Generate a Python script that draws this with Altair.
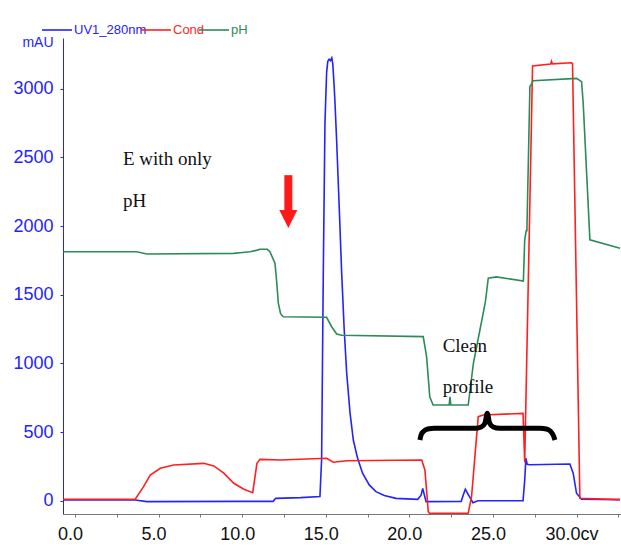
import altair as alt
import pandas as pd

# UV absorbance trace (mAU) against column volumes
uv_x = [-0.7, 3.6, 4.3, 9.9, 11.85, 12.0, 13.5, 14.65, 14.75, 14.85, 14.95, 15.05, 15.12,
        15.2, 15.28, 15.36, 15.42, 15.5, 15.55, 15.65, 15.8, 15.95, 16.1, 16.25, 16.45,
        16.65, 16.9, 17.2, 17.6, 18.0, 18.5, 19.2, 20.5, 20.7, 20.8,
        20.9, 21.0, 23.1, 23.25, 23.35, 23.5, 23.8, 24.1, 26.8, 26.9, 26.97, 27.05, 27.2,
        29.6, 29.8, 30.0, 30.3, 32.6]
uv_y = [5, 5, -7, -5, -5, 17, 22, 30, 300, 1650, 2750, 3120, 3200,
        3215, 3205, 3225, 3180, 3020, 2900, 2620, 2150, 1660, 1250, 930, 640,
        440, 310, 200, 115, 66, 38, 17, 10, 40, 90,
        40, -7, -5, 50, 83, 50, -15, 0, 0, 150, 309, 265, 262,
        267, 200, 54, 10, 8]

# Conductivity trace
cond_x = [-0.7, 3.6, 4.1, 4.5, 5.1, 5.9, 7.7, 8.3, 8.9, 9.5, 10.1, 10.63, 10.88, 11.07,
          12.3, 15.05, 15.45, 16.25, 20.74, 20.93, 21.13, 21.2, 23.52, 23.72, 24.12, 24.42,
          26.8, 26.9, 27.37, 28.45, 28.5, 28.55, 29.7, 29.76, 30.2, 32.6]
cond_y = [10, 10, 102, 187, 236, 260, 272, 253, 200, 127, 83, 58, 272, 301,
          296, 309, 280, 291, 296, 224, -80, -92, -92, 29, 612, 624,
          636, 280, 3166, 3181, 3200, 3182, 3190, 3185, 17, 8]

# pH trace
ph_x = [-0.7, 3.69, 4.29, 9.47, 9.87, 10.47, 10.9, 11.06, 11.5, 11.66, 11.96, 12.06, 12.16,
        12.3, 12.46, 15.05, 15.35, 15.65, 15.95, 20.83, 21.03, 21.22, 21.42, 22.38, 22.43,
        22.48, 23.52, 23.83, 24.22, 24.55, 24.72, 25.2, 26.82, 26.9, 27.0, 27.03, 27.21,
        27.41, 30.0, 30.3, 30.4, 30.8, 32.6]
ph_y = [1813, 1813, 1797, 1801, 1806, 1813, 1825, 1831, 1831, 1813, 1729, 1600, 1438,
        1360, 1340, 1336, 1267, 1214, 1205, 1195, 1049, 757, 697, 697, 757,
        697, 697, 1000, 1243, 1450, 1620, 1630, 1600, 1900, 1972, 1960, 3015,
        3059, 3076, 3052, 2894, 1900, 1838]

series_names = ["UV1_280nm", "Cond", "pH"]
series_colors = ["#2323ff", "#ff1f1f", "#2e8b57"]

# Annotations
note_text = ["E with only", "pH", "Clean", "profile"]
note_x = [2.87, 2.87, 21.99, 21.99]
note_y = [2445, 2141, 1085, 782]

brace_x = [20.63, 20.7, 20.85, 21.1, 21.5, 23.9, 24.3, 24.52, 24.66, 24.8, 25.02, 25.4,
           27.8, 28.2, 28.45, 28.6, 28.71]
brace_y = [442, 478, 505, 522, 527, 527, 537, 565, 637, 565, 537, 527,
           527, 522, 505, 478, 442]

arrow_x = [12.76]
arrow_top = [2371]
arrow_base = [2115]
arrow_head = [2052]

x_ticks = [i * 2.5 for i in range(14)]
y_ticks = list(range(0, 3251, 250))

rows = []
for name, xs, ys in [("UV1_280nm", uv_x, uv_y), ("Cond", cond_x, cond_y), ("pH", ph_x, ph_y)]:
    for i, (xv, yv) in enumerate(zip(xs, ys)):
        rows.append({"series": name, "cv": xv, "value": yv, "idx": i})
traces = pd.DataFrame(rows)

notes = pd.DataFrame({"text": note_text, "cv": note_x, "value": note_y})
brace = pd.DataFrame({"cv": brace_x, "value": brace_y, "idx": list(range(len(brace_x)))})
arrow = pd.DataFrame({"cv": arrow_x, "top": arrow_top, "base": arrow_base, "head": arrow_head})

x_scale = alt.Scale(domain=[-0.72, 32.66], nice=False, zero=False)
y_scale = alt.Scale(domain=[-97, 3370], nice=False, zero=False)
AXIS_BLUE = "#2323ff"

x_axis = alt.Axis(
    values=x_ticks,
    labelExpr="datum.value == 30 ? '\u00a0\u00a0\u00a0\u00a030.0cv' : (datum.value % 5 == 0 ? format(datum.value, '.1f') : '')",
    title=None, grid=False, domainColor="#777777", tickColor="#777777", tickSize=3,
    labelFont="Liberation Sans", labelFontSize=18, labelColor="#111111",
    labelPadding=8, labelOffset=-5, labelOverlap=False, labelFlush=False,
)
y_axis = alt.Axis(
    values=y_ticks, format="d",
    labelExpr="datum.value % 500 == 0 ? datum.label : ''",
    title="mAU", titleAngle=0, titleAlign="right", titleBaseline="middle",
    titleX=-10, titleY=4, titleColor=AXIS_BLUE, titleFont="Liberation Sans",
    titleFontSize=14, titleFontWeight="normal",
    grid=False, domainColor=AXIS_BLUE, tickColor=AXIS_BLUE, tickSize=3,
    labelFont="Liberation Sans", labelFontSize=18, labelColor=AXIS_BLUE,
    labelPadding=7, labelOverlap=False, labelFlush=False,
)

lines = alt.Chart(traces).mark_line(strokeWidth=1.6).encode(
    x=alt.X("cv:Q", scale=x_scale, axis=x_axis),
    y=alt.Y("value:Q", scale=y_scale, axis=y_axis),
    color=alt.Color(
        "series:N",
        scale=alt.Scale(domain=series_names, range=series_colors),
        sort=series_names,
        legend=alt.Legend(
            title=None, orient="none", legendX=-22, legendY=-24, direction="horizontal",
            symbolType="stroke", symbolSize=900, symbolStrokeWidth=1.6,
            labelFont="Liberation Sans", labelFontSize=13, labelOffset=1,
            gridAlign="none", columnPadding=-10,
            labelColor=alt.ExprRef(
                "datum.value == 'Cond' ? '#ff1f1f' : (datum.value == 'pH' ? '#2e8b57' : '#2323ff')"
            ),
        ),
    ),
    order="idx:Q",
)

brace_line = alt.Chart(brace).mark_line(
    color="black", strokeWidth=5, interpolate="monotone", strokeCap="butt"
).encode(x=alt.X("cv:Q", scale=x_scale), y=alt.Y("value:Q", scale=y_scale), order="idx:Q")

arrow_shaft = alt.Chart(arrow).mark_rule(color="#ff1a1a", strokeWidth=8).encode(
    x=alt.X("cv:Q", scale=x_scale), y=alt.Y("top:Q", scale=y_scale), y2="base:Q"
)
arrow_tip = alt.Chart(arrow).mark_point(
    shape="M-1,-1L1,-1L0,1Z", filled=True, color="#ff1a1a", size=324, opacity=1
).encode(x=alt.X("cv:Q", scale=x_scale), y=alt.Y("head:Q", scale=y_scale))

labels = alt.Chart(notes).mark_text(
    align="left", baseline="alphabetic", font="Liberation Serif", fontSize=19, color="#111111"
).encode(x=alt.X("cv:Q", scale=x_scale), y=alt.Y("value:Q", scale=y_scale), text="text:N")

chart = alt.layer(lines, brace_line, arrow_shaft, arrow_tip, labels).properties(
    width=558, height=476,
    autosize=alt.AutoSizeParams(type="none"),
    padding={"left": 63, "top": 38, "right": 0, "bottom": 33},
    background="white",
).configure_view(stroke=None)

chart.save("out.html", embed_options={"renderer": "svg", "actions": False})
